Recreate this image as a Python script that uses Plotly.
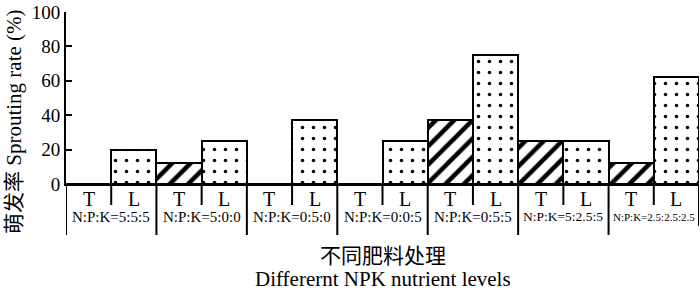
import plotly.graph_objects as go

groups = ["N:P:K=5:5:5", "N:P:K=5:0:0", "N:P:K=0:5:0", "N:P:K=0:0:5",
          "N:P:K=0:5:5", "N:P:K=5:2.5:5", "N:P:K=2.5:2.5:2.5"]
t_values = [0, 12.5, 0, 0, 37.5, 25, 12.5]
l_values = [20, 25, 37.5, 25, 75, 25, 62.5]
group_font_sizes = [15, 15, 15, 15, 15, 13.5, 11]
y_ticks = [0, 20, 40, 60, 80, 100]

FONT = "Liberation Serif, Noto Sans CJK SC, serif"
W, H = 700, 295
L_M, R_M, T_M, B_M = 66, 1, 12, 111
plot_h = H - T_M - B_M

def py(px):
    # pixel y -> paper y
    return (H - B_M - px) / plot_h

t_x = [2 * i for i in range(len(groups))]
l_x = [2 * i + 1 for i in range(len(groups))]

fig = go.Figure()
fig.add_trace(go.Bar(
    x=t_x, y=t_values, width=1.0, opacity=1,
    marker=dict(color="white", line=dict(color="black", width=2),
                pattern=dict(shape="/", size=13, solidity=0.35, fgcolor="black",
                             fgopacity=1, bgcolor="white")),
    showlegend=False, hoverinfo="skip"))
fig.add_trace(go.Bar(
    x=l_x, y=l_values, width=1.0, opacity=1,
    marker=dict(color="white", line=dict(color="black", width=2),
                pattern=dict(shape=".", size=11, solidity=0.08, fgcolor="black",
                             fgopacity=1, bgcolor="white")),
    showlegend=False, hoverinfo="skip"))

shapes = []
n = 2 * len(groups)
for k in range(n + 1):
    xb = k - 0.5
    if k % 2 == 0:
        y1 = py(235) if k < n else py(226)
    else:
        y1 = py(205)
    shapes.append(dict(type="line", xref="x", yref="paper", x0=xb, x1=xb, y0=0, y1=y1,
                       line=dict(color="black", width=2)))

annotations = []
for i, g in enumerate(groups):
    annotations.append(dict(x=t_x[i], y=py(199), xref="x", yref="paper", text="T",
                            showarrow=False, font=dict(family=FONT, size=20, color="black"),
                            xanchor="center", yanchor="middle"))
    annotations.append(dict(x=l_x[i], y=py(199), xref="x", yref="paper", text="L",
                            showarrow=False, font=dict(family=FONT, size=20, color="black"),
                            xanchor="center", yanchor="middle"))
    annotations.append(dict(x=2 * i + 0.5, y=py(217), xref="x", yref="paper", text=g,
                            showarrow=False, font=dict(family=FONT, size=group_font_sizes[i], color="black"),
                            xanchor="center", yanchor="middle"))

annotations.append(dict(x=0.5, y=py(256), xref="paper", yref="paper", text="不同肥料处理",
                        showarrow=False, font=dict(family=FONT, size=21, color="black"),
                        xanchor="center", yanchor="middle"))
annotations.append(dict(x=0.5, y=py(279), xref="paper", yref="paper", text="Differernt NPK nutrient levels",
                        showarrow=False, font=dict(family=FONT, size=21, color="black"),
                        xanchor="center", yanchor="middle"))
annotations.append(dict(x=(14 - L_M) / (W - L_M - R_M), y=py(122), xref="paper", yref="paper",
                        text="萌发率 Sprouting rate (%)", textangle=-90,
                        showarrow=False, font=dict(family=FONT, size=21, color="black"),
                        xanchor="center", yanchor="middle"))

fig.update_layout(
    width=W, height=H,
    font=dict(family=FONT, color="black"),
    margin=dict(l=L_M, r=R_M, t=T_M, b=B_M, pad=0, autoexpand=False),
    plot_bgcolor="white", paper_bgcolor="white",
    bargap=0, barmode="group",
    shapes=shapes, annotations=annotations,
    xaxis=dict(range=[-0.5, n - 0.5], showticklabels=False, ticks="", showgrid=False,
               zeroline=False, showline=True, linecolor="black", linewidth=2, automargin=False),
    yaxis=dict(range=[0, 100], tickvals=y_ticks, ticks="inside", ticklen=6, tickwidth=2,
               tickcolor="black", showgrid=False, zeroline=False, showline=True,
               linecolor="black", linewidth=2, automargin=False,
               tickfont=dict(family=FONT, size=19, color="black")),
)

fig.write_html("out.html", config={"displayModeBar": False},
               post_script="document.body.style.margin='0';document.body.style.overflow='hidden';")
